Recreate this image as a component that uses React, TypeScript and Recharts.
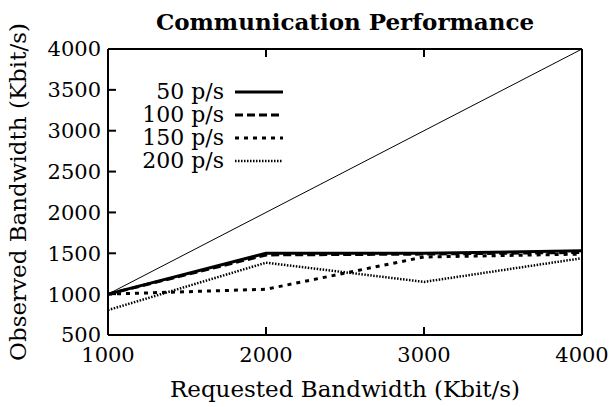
import { LineChart, Line, XAxis, YAxis, Legend } from "recharts"

const requested = [1000, 2000, 3000, 4000]
const observed50 = [1000, 1500, 1500, 1530]
const observed100 = [1000, 1480, 1490, 1510]
const observed150 = [1000, 1060, 1455, 1490]
const observed200 = [805, 1385, 1150, 1440]
const xTicks = [1000, 2000, 3000, 4000]
const yTicks = [500, 1000, 1500, 2000, 2500, 3000, 3500, 4000]

const FONT = "'DejaVu Serif', serif"

const data = requested.map((r, i) => ({
  requested: r,
  ideal: r,
  s50: observed50[i],
  s100: observed100[i],
  s150: observed150[i],
  s200: observed200[i],
}))

const series = [
  { key: "s50", name: "50 p/s", dash: undefined, width: 3 },
  { key: "s100", name: "100 p/s", dash: "8 4", width: 3 },
  { key: "s150", name: "150 p/s", dash: "4 5", width: 3 },
  { key: "s200", name: "200 p/s", dash: "1.5 1.5", width: 2.5 },
]

const noTick = () => <g />

function LegendBox() {
  return (
    <div style={{ fontFamily: FONT, fontSize: 22, color: "#000", lineHeight: "23px" }}>
      {series.map((s) => (
        <div key={s.key} style={{ display: "flex", alignItems: "center", height: 23 }}>
          <span style={{ textAlign: "right", width: 94 }}>{s.name}</span>
          <svg width={52} height={10} style={{ marginLeft: 9 }}>
            <line x1={2} y1={5} x2={50} y2={5} stroke="#000" strokeWidth={s.width} strokeDasharray={s.dash} />
          </svg>
        </div>
      ))}
    </div>
  )
}

export default function App() {
  return (
    <div style={{ position: "absolute", left: 0, top: 0, width: 610, height: 407, background: "#fff" }}>
      <div
        style={{
          position: "absolute", left: 108, width: 474, top: 10, textAlign: "center", lineHeight: 1,
          fontFamily: FONT, fontWeight: "bold", fontSize: 23, color: "#000",
        }}
      >
        Communication Performance
      </div>
      <LineChart width={610} height={407} data={data} margin={{ top: 49, right: 28, bottom: 0, left: 0 }}>
        <XAxis
          xAxisId="bottom"
          dataKey="requested"
          type="number"
          domain={[1000, 4000]}
          ticks={xTicks}
          height={72}
          tickSize={-8}
          tickMargin={20}
          stroke="#000"
          strokeWidth={2}
          tick={{ fill: "#000", fontFamily: FONT, fontSize: 21 }}
          label={{ value: "Requested Bandwidth (Kbit/s)", position: "insideBottom", offset: 10, fill: "#000", fontFamily: FONT, fontSize: 23 }}
        />
        <XAxis
          xAxisId="top"
          orientation="top"
          dataKey="requested"
          type="number"
          domain={[1000, 4000]}
          ticks={xTicks}
          mirror
          tickSize={8}
          stroke="#000"
          strokeWidth={2}
          tick={noTick}
        />
        <YAxis
          yAxisId="left"
          type="number"
          domain={[500, 4000]}
          ticks={yTicks}
          width={108}
          tickSize={-8}
          tickMargin={15}
          stroke="#000"
          strokeWidth={2}
          tick={{ fill: "#000", fontFamily: FONT, fontSize: 21 }}
          label={{ value: "Observed Bandwidth (Kbit/s)", angle: -90, position: "insideLeft", offset: 18, fill: "#000", fontFamily: FONT, fontSize: 23, style: { textAnchor: "middle" } }}
        />
        <YAxis
          yAxisId="right"
          orientation="right"
          type="number"
          domain={[500, 4000]}
          ticks={yTicks}
          mirror
          tickSize={8}
          stroke="#000"
          strokeWidth={2}
          tick={noTick}
        />
        <Legend
          layout="horizontal"
          verticalAlign="middle"
          align="center"
          content={LegendBox}
          wrapperStyle={{ left: 130, top: 80, width: 170 }}
        />
        <Line
          xAxisId="bottom"
          yAxisId="left"
          dataKey="ideal"
          stroke="#000"
          strokeWidth={1}
          dot={false}
          legendType="none"
          isAnimationActive={false}
        />
        {series.map((s) => (
          <Line
            key={s.key}
            xAxisId="bottom"
            yAxisId="left"
            dataKey={s.key}
            name={s.name}
            stroke="#000"
            strokeWidth={s.width}
            strokeDasharray={s.dash}
            dot={false}
            isAnimationActive={false}
          />
        ))}
      </LineChart>
    </div>
  )
}
